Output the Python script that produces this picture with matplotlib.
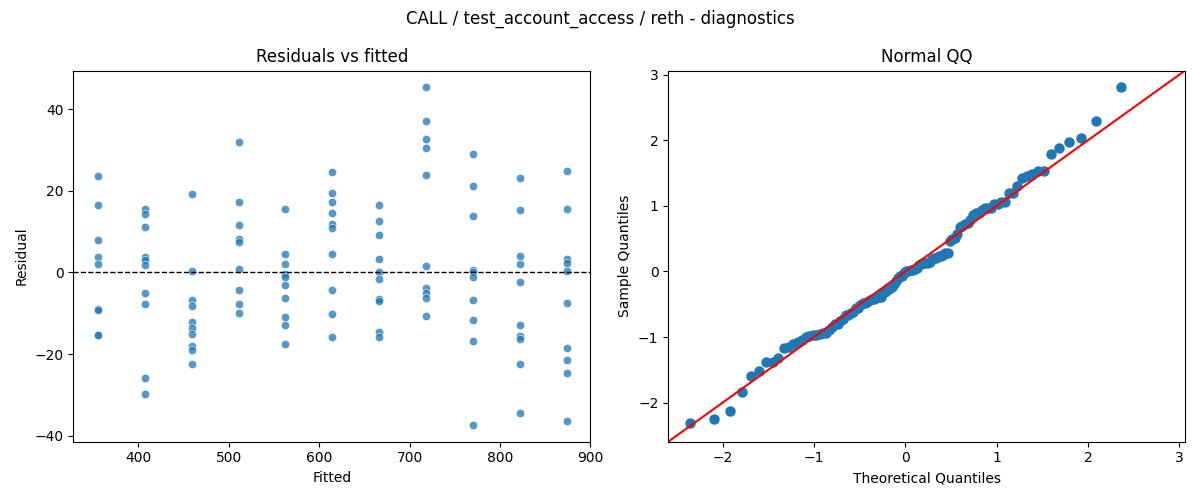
import numpy as np
import matplotlib
matplotlib.use("Agg")
import matplotlib.pyplot as plt
import seaborn as sns
from statistics import NormalDist

# fitted levels (one per group) and residuals
fitted_levels = [355, 407, 459, 511, 562, 614, 666, 718, 770, 822, 874]
resid_groups = [
    [23.6, 16.5, 7.9, 3.7, 2.0, -8.9, -9.1, -15.2, -15.4],
    [15.6, 14.3, 11.2, 3.7, 3.1, 1.8, -5.0, -7.7, -25.8, -29.7],
    [19.2, 0.4, -6.7, -8.2, -12.1, -13.6, -15.1, -17.9, -18.9, -22.3],
    [31.9, 17.2, 11.6, 8.2, 7.4, 0.9, -4.2, -7.7, -9.9],
    [15.6, 4.6, 2.0, -0.4, -1.0, -3.0, -6.2, -10.8, -12.9, -17.4],
    [24.6, 19.4, 17.2, 14.5, 11.9, 10.9, 4.5, -4.3, -10.2, -15.7],
    [16.5, 12.6, 9.1, 3.3, 0.2, -1.5, -6.5, -7.0, -14.5, -15.8],
    [45.3, 37.1, 32.8, 30.4, 23.9, 1.5, -3.9, -5.1, -6.3, -10.7],
    [28.9, 21.1, 13.8, 0.7, 0.2, -1.0, -6.8, -11.7, -16.8, -37.3],
    [23.1, 15.2, 4.0, 2.0, -2.4, -12.9, -15.6, -16.2, -22.4, -34.4],
    [24.8, 15.5, 3.3, 2.4, 0.3, -7.5, -18.5, -21.4, -24.5, -36.3],
]

fitted = np.array([f for f, g in zip(fitted_levels, resid_groups) for _ in g])
resid = np.array([r for g in resid_groups for r in g])

fig, axes = plt.subplots(1, 2, figsize=(12, 5), dpi=100)

# residuals vs fitted
ax = axes[0]
sns.scatterplot(x=fitted, y=resid, alpha=0.75, ax=ax)
ax.axhline(0, color="black", linestyle="--", linewidth=1)
ax.set_xlim(328, 900)
ax.set_title("Residuals vs fitted")
ax.set_xlabel("Fitted")
ax.set_ylabel("Residual")

# normal QQ of standardized residuals
ax = axes[1]
std_resid = np.sort(resid / resid.std())
n = len(std_resid)
theo = np.array([NormalDist().inv_cdf(i / (n + 1)) for i in range(1, n + 1)])
ax.plot(theo, std_resid, "o", color="C0", markersize=6.5)
xl, yl = ax.get_xlim(), ax.get_ylim()
end_pts = [min(xl[0], yl[0]), max(xl[1], yl[1])]
ax.plot(end_pts, end_pts, "r-")
ax.set_xlim(end_pts)
ax.set_ylim(end_pts)
ax.set_title("Normal QQ")
ax.set_xlabel("Theoretical Quantiles")
ax.set_ylabel("Sample Quantiles")

fig.suptitle("CALL / test_account_access / reth - diagnostics")
fig.tight_layout()
fig.savefig("out.png")
